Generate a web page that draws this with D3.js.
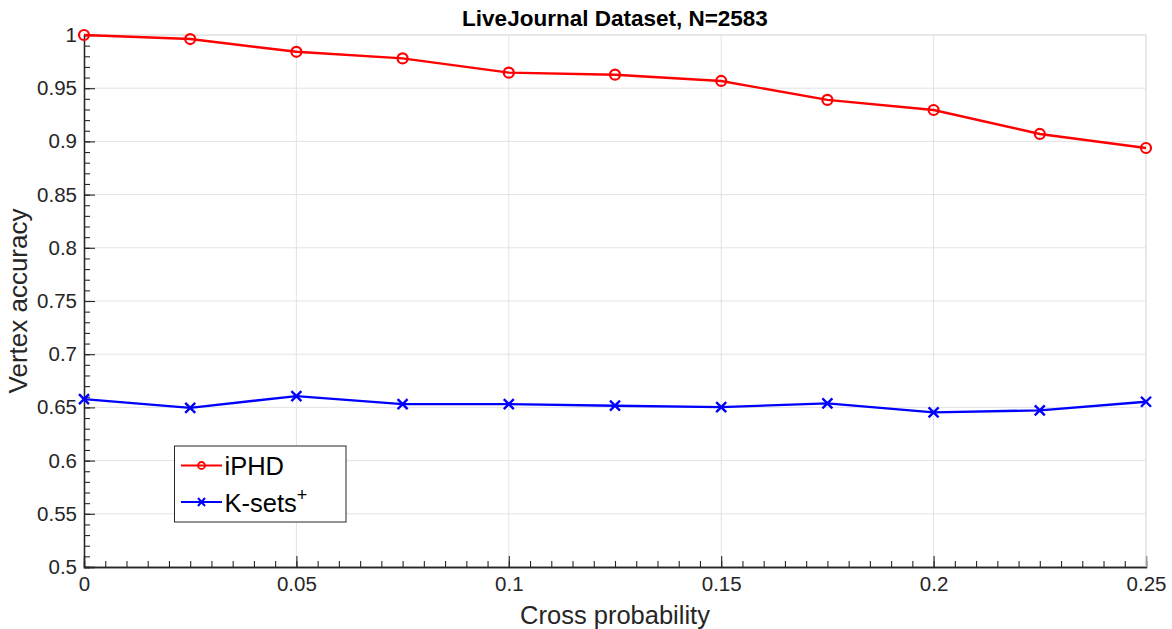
<!DOCTYPE html>
<html>
<head>
<meta charset="utf-8">
<script src="https://cdn.jsdelivr.net/npm/d3@7"></script>
<style>
  body { margin: 0; background: #fff; }
  text { font-family: "Liberation Sans", Arial, Helvetica, sans-serif; }
</style>
</head>
<body>
<div id="chart"></div>
<script>
// data
const crossProb = [0, 0.025, 0.05, 0.075, 0.1, 0.125, 0.15, 0.175, 0.2, 0.225, 0.25];
const iphd = [1.0, 0.9962, 0.9842, 0.978, 0.9646, 0.9627, 0.9568, 0.939, 0.9295, 0.907, 0.8938];
const ksets = [0.6578, 0.6496, 0.6606, 0.6531, 0.6531, 0.6516, 0.6503, 0.6538, 0.6453, 0.6472, 0.6553];
const xTicks = [0, 0.05, 0.1, 0.15, 0.2, 0.25];
const yTicks = [0.5, 0.55, 0.6, 0.65, 0.7, 0.75, 0.8, 0.85, 0.9, 0.95, 1];

const width = 1172, height = 629;
const margin = { top: 35, right: 26, bottom: 62, left: 84 };
const w = width - margin.left - margin.right;
const h = height - margin.top - margin.bottom;

const axisCol = "#262626", gridCol = "#e3e3e3";

const svg = d3.select("#chart").append("svg")
    .attr("width", width)
    .attr("height", height);

const g = svg.append("g").attr("transform", `translate(${margin.left},${margin.top})`);

const x = d3.scaleLinear().domain([0, 0.25]).range([0, w]);
const y = d3.scaleLinear().domain([0.5, 1]).range([h, 0]);
const fmt = d3.format("~g");

// grid
g.append("g").selectAll("line").data(xTicks.slice(1)).join("line")
    .attr("x1", d => x(d)).attr("x2", d => x(d))
    .attr("y1", 0).attr("y2", h)
    .attr("stroke", gridCol).attr("stroke-width", 1);
g.append("g").selectAll("line").data(yTicks.slice(1)).join("line")
    .attr("x1", 0).attr("x2", w)
    .attr("y1", d => y(d)).attr("y2", d => y(d))
    .attr("stroke", gridCol).attr("stroke-width", 1);

// minor ticks
const xMinor = d3.range(0, 51).map(i => i * 0.005);
const yMinor = d3.range(0, 51).map(i => 0.5 + i * 0.01);

const xMinorAxis = g.append("g").attr("transform", `translate(0,${h})`)
    .call(d3.axisBottom(x).tickValues(xMinor).tickSize(-6).tickFormat(""));
const yMinorAxis = g.append("g")
    .call(d3.axisLeft(y).tickValues(yMinor).tickSize(-6).tickFormat(""));

const xAxis = g.append("g").attr("transform", `translate(0,${h})`)
    .call(d3.axisBottom(x).tickValues(xTicks).tickSize(-11).tickPadding(9).tickFormat(fmt));
const yAxis = g.append("g")
    .call(d3.axisLeft(y).tickValues(yTicks).tickSize(-11).tickPadding(7).tickFormat(fmt));

[xMinorAxis, yMinorAxis, xAxis, yAxis].forEach(a => {
    a.select(".domain").attr("stroke", axisCol).attr("stroke-width", 1.3);
    a.selectAll(".tick line").attr("stroke", axisCol).attr("stroke-width", 1.1);
    a.selectAll("text").attr("fill", axisCol).attr("font-size", 20.5);
});
xAxis.selectAll("text").attr("dy", "0.71em");

// top/right box in light grey
g.append("line").attr("x1", 0).attr("x2", w).attr("y1", 0).attr("y2", 0)
    .attr("stroke", gridCol).attr("stroke-width", 1.3);
g.append("line").attr("x1", w).attr("x2", w).attr("y1", 0).attr("y2", h)
    .attr("stroke", gridCol).attr("stroke-width", 1.3);

// lines
const lineGen = d3.line().x((d, i) => x(crossProb[i])).y(d => y(d));

g.append("path").datum(iphd).attr("d", lineGen)
    .attr("fill", "none").attr("stroke", "#ff0000").attr("stroke-width", 2.4);
g.append("path").datum(ksets).attr("d", lineGen)
    .attr("fill", "none").attr("stroke", "#0000ff").attr("stroke-width", 2.4);

g.append("g").selectAll("circle").data(iphd).join("circle")
    .attr("cx", (d, i) => x(crossProb[i])).attr("cy", d => y(d))
    .attr("r", 5).attr("fill", "none").attr("stroke", "#ff0000").attr("stroke-width", 2.2);

const cross = (sel, s) => sel.append("path")
    .attr("d", `M${-s},${-s}L${s},${s}M${-s},${s}L${s},${-s}`)
    .attr("fill", "none").attr("stroke", "#0000ff").attr("stroke-width", 2.4);

g.append("g").selectAll("g").data(ksets).join("g")
    .attr("transform", (d, i) => `translate(${x(crossProb[i])},${y(d)})`)
    .each(function () { cross(d3.select(this), 5); });

// title and axis labels
svg.append("text")
    .attr("x", margin.left + w / 2).attr("y", 26)
    .attr("text-anchor", "middle").attr("font-weight", "bold").attr("font-size", 22.5)
    .attr("fill", "#000")
    .text("LiveJournal Dataset, N=2583");

svg.append("text")
    .attr("x", margin.left + w / 2).attr("y", 624)
    .attr("text-anchor", "middle").attr("font-size", 25.5).attr("fill", axisCol)
    .text("Cross probability");

svg.append("text")
    .attr("transform", `translate(27,${margin.top + h / 2}) rotate(-90)`)
    .attr("text-anchor", "middle").attr("font-size", 26).attr("fill", axisCol)
    .text("Vertex accuracy");

// legend
const leg = svg.append("g").attr("transform", "translate(174.5,446)");
leg.append("rect").attr("width", 171.5).attr("height", 76)
    .attr("fill", "#fff").attr("stroke", axisCol).attr("stroke-width", 1);

const legRows = [
    { name: "iPHD", color: "#ff0000", y: 19.5 },
    { name: "K-sets", color: "#0000ff", y: 56 }
];
legRows.forEach(r => {
    leg.append("line").attr("x1", 6.5).attr("x2", 47.5).attr("y1", r.y).attr("y2", r.y)
        .attr("stroke", r.color).attr("stroke-width", 2);
    if (r.name === "iPHD") {
        leg.append("circle").attr("cx", 27).attr("cy", r.y).attr("r", 3.5)
            .attr("fill", "none").attr("stroke", r.color).attr("stroke-width", 1.8);
    } else {
        leg.append("path")
            .attr("d", `M23.5,${r.y - 4}L30.5,${r.y + 4}M23.5,${r.y + 4}L30.5,${r.y - 4}`)
            .attr("stroke", r.color).attr("stroke-width", 2);
    }
    const t = leg.append("text").attr("x", 50).attr("y", r.y + 9.5)
        .attr("font-size", 25.5).attr("fill", "#000").text(r.name);
    if (r.name === "K-sets") {
        t.append("tspan").attr("dy", -11).attr("font-size", 18).text("+");
    }
});
</script>
</body>
</html>
